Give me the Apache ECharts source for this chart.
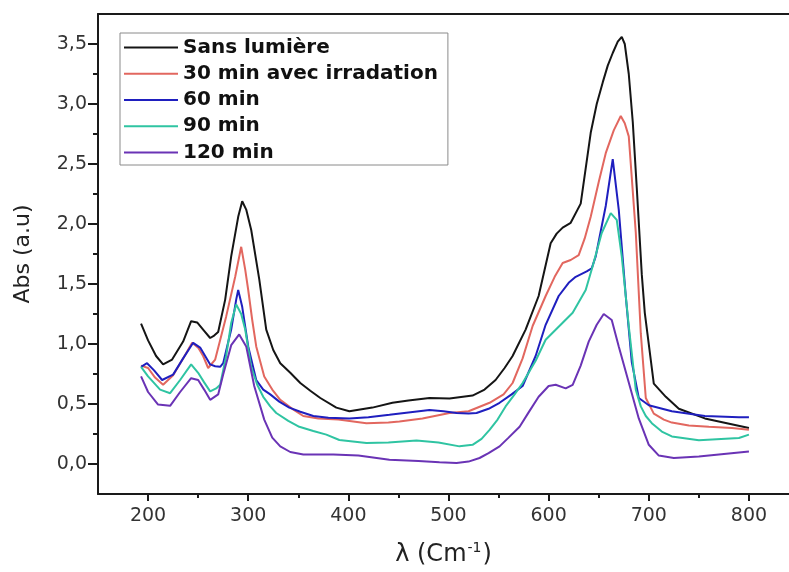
<!DOCTYPE html>
<html><head><meta charset="utf-8">
<script src="https://cdn.jsdelivr.net/npm/echarts@6/dist/echarts.min.js"></script>
<style>html,body{margin:0;padding:0;background:#fff;}#c{width:789px;height:572px;}</style>
</head><body><div id="c"></div>
<script>
const seriesNames = ['Sans lumière', '30 min avec irradation', '60 min', '90 min', '120 min'];
const seriesColors = ['#151515', '#e2675f', '#1f1fbf', '#2fc4a2', '#6a33b5'];

const blackX = [193,200,208,215,224,235,243,249,256,262,266,270,277,283,290,294,298,303,311,318,325,332,342,352,362,372,388,401,424,444,460,481,501,524,536,547,556,564,577,590,602,608,614,622,632,642,648,654,659,664,669,673,676,680,684,688,693,696,705,717,730,756,800];
const blackY = [1.17,1.03,0.90,0.83,0.87,1.02,1.19,1.18,1.11,1.05,1.07,1.10,1.37,1.73,2.06,2.19,2.12,1.95,1.54,1.12,0.95,0.84,0.76,0.675,0.61,0.55,0.47,0.44,0.47,0.51,0.53,0.55,0.545,0.57,0.62,0.70,0.80,0.90,1.12,1.40,1.84,1.92,1.97,2.01,2.17,2.76,3.00,3.18,3.32,3.425,3.52,3.56,3.50,3.25,2.85,2.30,1.58,1.26,0.67,0.56,0.46,0.38,0.30];

const redX = [193,200,207,215,225,235,244,250,255,260,267,278,287,293,297,300,304,308,316,324,332,344,355,370,390,418,440,451,474,501,520,541,555,564,574,584,597,606,614,622,630,636,642,650,657,665,672,676,680,687,692,697,705,715,723,740,760,783,800];
const redY = [0.82,0.80,0.72,0.66,0.74,0.88,1.01,0.97,0.90,0.80,0.87,1.23,1.56,1.81,1.62,1.45,1.20,0.98,0.73,0.62,0.535,0.46,0.40,0.38,0.37,0.34,0.345,0.355,0.38,0.425,0.44,0.51,0.58,0.675,0.88,1.15,1.40,1.56,1.675,1.70,1.74,1.88,2.06,2.35,2.59,2.78,2.90,2.84,2.73,1.93,1.09,0.55,0.42,0.37,0.345,0.32,0.31,0.30,0.285];

const blueX = [193,199,206,214,225,235,245,252,257,262,267,272,275,283,288,290,294,300,308,315,322,331,341,352,365,380,401,420,441,460,481,495,508,520,528,540,551,563,574,587,597,610,620,627,638,643,647,657,664,670,677,683,690,700,723,756,790,800];
const blueY = [0.81,0.84,0.78,0.70,0.745,0.88,1.01,0.97,0.90,0.83,0.815,0.81,0.84,1.12,1.37,1.45,1.31,0.98,0.70,0.62,0.58,0.52,0.47,0.435,0.40,0.385,0.38,0.39,0.41,0.43,0.45,0.44,0.425,0.42,0.425,0.46,0.51,0.58,0.65,0.90,1.16,1.40,1.51,1.56,1.605,1.63,1.73,2.15,2.54,2.12,1.40,0.85,0.55,0.49,0.44,0.40,0.39,0.39];

const tealX = [193,200,212,222,232,243,250,256,262,268,272,278,283,288,293,297,303,309,315,322,328,340,351,365,378,391,418,440,468,490,511,524,533,541,549,557,566,574,587,597,612,624,637,644,653,662,668,673,680,687,692,697,703,713,723,750,790,800];
const tealY = [0.81,0.73,0.62,0.59,0.70,0.83,0.76,0.68,0.605,0.63,0.66,0.90,1.175,1.33,1.25,1.12,0.81,0.66,0.56,0.48,0.425,0.36,0.31,0.275,0.245,0.20,0.175,0.18,0.195,0.18,0.147,0.16,0.21,0.285,0.37,0.48,0.58,0.675,0.86,1.035,1.16,1.26,1.45,1.65,1.925,2.09,2.035,1.73,1.15,0.62,0.48,0.40,0.34,0.27,0.23,0.197,0.217,0.245];

const purpleX = [193,200,210,222,232,243,250,256,262,270,275,283,291,298,306,316,324,332,342,355,385,410,441,470,491,508,520,531,540,551,560,571,580,590,600,607,617,624,632,640,648,655,663,670,680,690,700,710,725,750,800];
const purpleY = [0.73,0.60,0.495,0.485,0.60,0.715,0.70,0.62,0.535,0.58,0.745,0.99,1.08,0.98,0.65,0.37,0.22,0.147,0.10,0.08,0.08,0.07,0.036,0.025,0.015,0.008,0.02,0.05,0.09,0.147,0.22,0.31,0.43,0.56,0.65,0.66,0.63,0.66,0.82,1.02,1.16,1.25,1.20,0.98,0.68,0.38,0.16,0.07,0.05,0.063,0.105];

const xMajorTicks = [200,300,400,500,600,700,800];
const xMinorTicks = [250,350,450,550,650,750];
const yMajorTicks = [0,0.5,1,1.5,2,2.5,3,3.5];
const yMinorTicks = [0.25,0.75,1.25,1.75,2.25,2.75,3.25];

const allX = [blackX, redX, blueX, tealX, purpleX];
const allY = [blackY, redY, blueY, tealY, purpleY];

const FONT = 'DejaVu Sans';
const AXC = '#1a1a1a';

const chart = echarts.init(document.getElementById('c'), null, {renderer: 'canvas'});
const xBase = {type: 'value', min: 150, max: 840, splitLine: {show: false}};
const yBase = {type: 'value', min: -0.25, max: 3.75, splitLine: {show: false}};

chart.setOption({
  animation: false,
  backgroundColor: '#fff',
  grid: {left: 98, right: -2, top: 14, bottom: 77, containLabel: false},
  legend: {
    orient: 'vertical', left: 120, top: 33,
    padding: [3.5, 10, 1.5, 4], itemGap: 4.25, itemWidth: 54, itemHeight: 2,
    icon: 'rect',
    borderColor: '#8a8a8a', borderWidth: 1,
    textStyle: {fontFamily: FONT, fontWeight: 'bold', fontSize: 20, color: '#111', lineHeight: 22},
    data: seriesNames
  },
  xAxis: [
    Object.assign({}, xBase, {
      position: 'bottom',
      axisLine: {show: true, onZero: false, lineStyle: {color: AXC, width: 2}},
      axisTick: {show: true, customValues: xMajorTicks, length: 7, lineStyle: {color: AXC, width: 2}},
      axisLabel: {customValues: xMajorTicks, margin: 13, fontFamily: FONT, fontSize: 19, color: '#333'},
      name: '{a|λ (Cm}{s|-1}{a|)}', nameLocation: 'middle', nameGap: 47,
      nameTextStyle: {rich: {
        a: {fontFamily: FONT, fontSize: 24, color: '#222', lineHeight: 28},
        s: {fontFamily: FONT, fontSize: 14, color: '#222', verticalAlign: 'top', lineHeight: 28, padding: [0, 1, 6, 1]}
      }}
    }),
    Object.assign({}, xBase, {
      position: 'bottom',
      axisLine: {show: false, onZero: false},
      axisTick: {show: true, customValues: xMinorTicks, length: 4, lineStyle: {color: AXC, width: 2}},
      axisLabel: {show: false}
    }),
    Object.assign({}, xBase, {
      position: 'top',
      axisLine: {show: true, onZero: false, lineStyle: {color: AXC, width: 2}},
      axisTick: {show: false},
      axisLabel: {show: false}
    })
  ],
  yAxis: [
    Object.assign({}, yBase, {
      position: 'left',
      axisLine: {show: true, onZero: false, lineStyle: {color: AXC, width: 2}},
      axisTick: {show: true, customValues: yMajorTicks, length: 10, lineStyle: {color: AXC, width: 2}},
      axisLabel: {customValues: yMajorTicks, margin: 11, fontFamily: FONT, fontSize: 19, color: '#333',
        formatter: v => v.toFixed(1).replace('.', ',')},
      name: 'Abs (a.u)', nameLocation: 'middle', nameGap: 64,
      nameTextStyle: {fontFamily: FONT, fontSize: 22, color: '#222'}
    }),
    Object.assign({}, yBase, {
      position: 'left',
      axisLine: {show: false, onZero: false},
      axisTick: {show: true, customValues: yMinorTicks, length: 5, lineStyle: {color: AXC, width: 2}},
      axisLabel: {show: false}
    })
  ],
  series: seriesNames.map((name, i) => ({
    name: name,
    type: 'line',
    xAxisIndex: 0, yAxisIndex: 0,
    symbol: 'none',
    smooth: false,
    color: seriesColors[i],
    lineStyle: {color: seriesColors[i], width: 2},
    data: allX[i].map((x, j) => [x, allY[i][j]])
  }))
});
</script>
</body></html>
